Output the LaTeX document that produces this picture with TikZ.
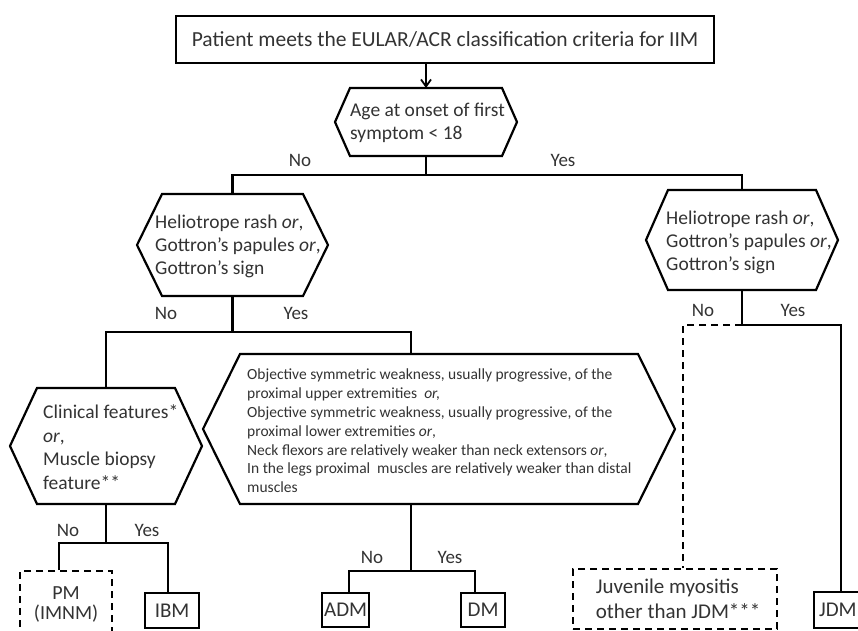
\documentclass[tikz,border=0pt]{standalone}
\usepackage{fontspec}
\setmainfont{Carlito}
\usetikzlibrary{calc,arrows.meta}
\newcommand\hexa[6]{%
  \draw[line] ({#2-#4},{#3-#6}) -- ({#2+#4},{#3-#6}) -- ({#2+#5},#3) -- ({#2+#4},{#3+#6}) -- ({#2-#4},{#3+#6}) -- ({#2-#5},#3) -- cycle;
  \coordinate (#1-top) at (#2,{#3-#6});
  \coordinate (#1-bot) at (#2,{#3+#6});}
\begin{document}
\begin{tikzpicture}[x=1pt,y=-1pt,
  line/.style={line width=2.2pt, line join=miter},
  dline/.style={line width=2.2pt, dash pattern=on 7pt off 5pt},
  txt/.style={inner sep=0pt, text=black!80, align=left, anchor=west, font=\fontsize{19.5}{23}\selectfont},
  small/.style={inner sep=0pt, text=black!80, align=left, anchor=west, font=\fontsize{15.5}{18.8}\selectfont},
  lab/.style={inner sep=0pt, text=black!80, font=\fontsize{19}{20}\selectfont},
  leaf/.style={draw, line width=2.2pt, inner sep=0pt, text=black!80, anchor=north west, font=\fontsize{21}{24}\selectfont},
]
\clip (0,0) rectangle (858,630);
\fill[white] (0,0) rectangle (858,630);

% top box
\node[leaf, minimum width=538pt, minimum height=47pt, font=\fontsize{21.5}{24}\selectfont] (top) at (175,15) {Patient meets the EULAR/ACR classification criteria for IIM};

% hexagons
\hexa{h1}{426}{122}{76}{91}{34}
\node[txt] (t1) at (350,123) {Age at onset of first\\symptom {<} 18};

\hexa{h2}{232.5}{245}{70.5}{95.5}{51}
\node[txt] (t2) at (155,246) {Heliotrope rash \emph{or},\\Gottron’s papules \emph{or},\\Gottron’s sign};

\hexa{h5}{742}{240}{74}{96}{50}
\node[txt] (t5) at (666,242) {Heliotrope rash \emph{or},\\Gottron’s papules \emph{or},\\Gottron’s sign};

\hexa{h3}{106}{446}{69}{96}{58}
\node[txt, font=\fontsize{19.5}{23.7}\selectfont] (t3) at (43,447) {Clinical features*\\\emph{or},\\Muscle biopsy\\feature**};

\hexa{h4}{439}{429}{199}{236}{75}
\node[small] (t4) at (247,431) {Objective symmetric weakness, usually progressive, of the\\
proximal upper extremities \ \emph{or,}\\
Objective symmetric weakness, usually progressive, of the\\
proximal lower extremities \emph{or},\\
Neck flexors are relatively weaker than neck extensors \emph{or},\\
In the legs proximal \ muscles are relatively weaker than distal\\
muscles};
\coordinate (h4in) at (411,354);
\coordinate (h4out) at (411,504);

% leaves
\node[leaf, dash pattern=on 7pt off 5pt, minimum width=92pt, minimum height=67pt, align=center, font=\fontsize{20}{20}\selectfont] (pm) at (19,570) {PM\\(IMNM)};
\node[leaf, minimum width=54pt, minimum height=35pt] (ibm) at (144,592) {IBM};
\node[leaf, minimum width=47pt, minimum height=34pt] (adm) at (321,592) {ADM};
\node[leaf, minimum width=44pt, minimum height=34pt] (dm) at (460,592) {DM};
\node[leaf, dash pattern=on 7pt off 5pt, minimum width=204pt, minimum height=60pt, align=left, font=\fontsize{21}{25}\selectfont] (juv) at (572,568) {\hspace*{6pt}Juvenile myositis\\\hspace*{6pt}other than JDM***};
\node[leaf, minimum width=60pt, minimum height=36pt, text width=50pt, inner xsep=5pt, align=left] (jdm) at (813,591) {JDM};

% attach points
\coordinate (pmin) at ($(pm.north)+(-7,0)$);
\coordinate (ibmin) at ($(ibm.north)+(-4,0)$);
\coordinate (admin) at ($(adm.north)+(3,0)$);
\coordinate (dmin) at ($(dm.north)+(-8,0)$);
\coordinate (juvin) at ($(juv.north)+(8,0)$);
\coordinate (jdmin) at ($(jdm.north)+(-3,0)$);

% connectors
\draw[line, -{Straight Barb[length=7pt,width=10pt,line width=1.8pt]}] (top.south -| h1-top) -- (h1-top);

\coordinate (j1) at (426,175);
\draw[line] (h1-bot) -- (j1);
\draw[line] (h2-top) -- (h2-top |- j1) -- (h5-top |- j1) -- (h5-top);
\node[lab] (n1) at (300,160) {No};
\node[lab] (y1) at (563,160) {Yes};

\coordinate (j2) at (232.5,332);
\draw[line] (h2-bot) -- (j2);
\draw[line] (h3-top) -- (h3-top |- j2) -- (h4in |- j2) -- (h4in);
\node[lab] (n2) at (166,313) {No};
\node[lab] (y2) at (296,313) {Yes};

\coordinate (j5) at (742,325);
\draw[line] (h5-bot) -- (j5) -- (jdmin |- j5) -- (jdmin);
\draw[dline] (j5) -- (juvin |- j5) -- (juvin);
\node[lab] (n5) at (703,310) {No};
\node[lab] (y5) at (793,310) {Yes};

\coordinate (j3) at (106,543);
\draw[line] (h3-bot) -- (j3);
\draw[line] (pmin) -- (pmin |- j3) -- (ibmin |- j3) -- (ibmin);
\node[lab] (n3) at (68,530) {No};
\node[lab] (y3) at (147,530) {Yes};

\coordinate (j4) at (411,571);
\draw[line] (h4out) -- (j4);
\draw[line] (admin) -- (admin |- j4) -- (dmin |- j4) -- (dmin);
\node[lab] (n4) at (372,557) {No};
\node[lab] (y4) at (450,557) {Yes};
\end{tikzpicture}
\end{document}
